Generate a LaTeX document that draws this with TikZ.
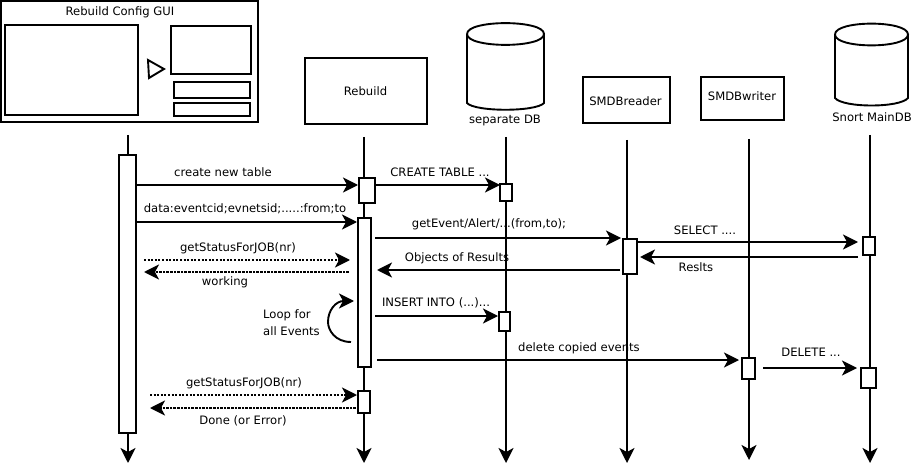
\documentclass[tikz,border=0pt]{standalone}
\usepackage{fontspec}
\setmainfont{DejaVu Sans}
\usetikzlibrary{arrows.meta}
\newcommand{\bx}[6][plainbox]{%
  \pgfmathsetmacro{\cxx}{(#3+#5)/2}\pgfmathsetmacro{\cyy}{(#4+#6)/2}%
  \pgfmathsetmacro{\www}{#5-#3}\pgfmathsetmacro{\hhh}{#6-#4}%
  \node[#1,minimum width=\www pt,minimum height=\hhh pt] (#2) at (\cxx,\cyy) {};}
\newcommand{\cyl}[6]{% x1 x2 top centre ytopEllipse, ysideEnd, ybottom
  \draw[ln,fill=white] (#1,#4) -- (#1,#5) .. controls (#1+8,#6-1) and (#2-8,#6-1) .. (#2,#5) -- (#2,#4);
  \draw[ln] (#1,#4) .. controls (#1,#3-14.5) and (#2,#3-14.5) .. (#2,#4) .. controls (#2,#3+14.5) and (#1,#3+14.5) .. (#1,#4);}
\tikzset{
  ln/.style={line width=1.9pt},
  plainbox/.style={draw,line width=1.9pt,fill=white,inner sep=0pt,outer sep=0pt,rectangle},
  txt/.style={inner sep=0pt,font=\fontsize{11.6pt}{14pt}\selectfont},
  life/.style={ln,-{Stealth[length=15pt,width=15pt,inset=4pt]}},
  msg/.style={ln,-{Stealth[length=15pt,width=15pt,inset=4pt]}},
  dotmsg/.style={msg,dash pattern=on 2pt off 1.6pt},
  dashmsg/.style={msg,dash pattern=on 2.6pt off 1pt},
}
\begin{document}
\begin{tikzpicture}[x=1pt,y=-1pt]
\useasboundingbox (0,0) rectangle (913,465);
% lifeline ends
\foreach \n/\x/\a/\b in {gui/128/135/463,reb/364/137/463,sep/506/137/463,rea/627/140/463,wri/749/139/460,sno/870/135/463}{
  \coordinate (\n top) at (\x,\a);
  \coordinate (\n end) at (\x,\b);
  \draw[life] (\n top) -- (\n end);
}
% GUI
\bx{gui}{1}{1}{258}{122}
\bx{guileft}{5}{25}{138}{115}
\bx{guiright}{171}{26}{251}{74}
\bx{guibtna}{174}{82}{250}{98}
\bx{guibtnb}{174}{103}{250}{116}
\draw[ln,line join=miter] (148,60) -- (164,69) -- (149,78) -- cycle;
\node[txt] (guilabel) at (120,12.5) {Rebuild Config GUI};
% Rebuild and others
\bx{rebuild}{305}{58}{427}{124}
\node[txt] (rebuildlabel) at (365.5,91.5) {Rebuild};
\cyl{467}{544}{34}{34}{103}{113}
\node[txt] (seplabel) at (505,120) {separate DB};
\bx{reader}{583}{77}{670}{123}
\node[txt] (readerlabel) at (625.5,101.5) {SMDBreader};
\bx{writer}{701}{77}{784}{120}
\node[txt] (writerlabel) at (742,96.5) {SMDBwriter};
\cyl{835}{908}{34.5}{34.5}{98}{109}
\node[txt] (snolabel) at (872,117) {Snort MainDB};
% activations
\bx{agui}{119}{155}{136}{433}
\bx{areba}{359}{178}{375}{203}
\bx{arebb}{358}{218}{371}{367}
\bx{arebc}{358}{391}{370}{413}
\bx{asepa}{500}{184}{512}{201}
\bx{asepb}{499}{312}{510}{331}
\bx{area}{623}{239}{637}{274}
\bx{awri}{742}{358}{755}{379}
\bx{asnoa}{863}{237}{875}{255}
\bx{asnob}{861}{368}{876}{388}
% messages
\foreach \n/\xa/\ya/\xb/\yb/\st in {
 ma/136/185/358/185/msg, mb/375/185/500/185/msg, mc/136/222/357/222/msg,
 md/375/238/621/238/msg, me/637/242/858/242/msg, mf/858/257/640/257/msg,
 mg/620/270/377/270/msg, mh/375/316/498/316/msg, mi/377/360/739/360/msg,
 mj/763/368/857/368/msg, mk/144/260/350/260/dotmsg, ml/349/272/144/272/dashmsg,
 mm/150/395/357/395/dotmsg, mn/356/408/150/408/dashmsg}{
  \coordinate (\n s) at (\xa,\ya);
  \coordinate (\n t) at (\xb,\yb);
  \draw[\st] (\n s) -- (\n t);
}
% loop
\coordinate (loops) at (351,342);
\coordinate (loopt) at (354,301);
\draw[msg] (loops) .. controls (335,342) and (328,330) .. (328,322) .. controls (328,310) and (336,301) .. (loopt);
% labels
\node[txt] (la) at (223,172) {create new table};
\node[txt] (lb) at (440,172) {CREATE TABLE ...};
\node[txt] (lc) at (245,209) {data:eventcid;evnetsid;.....:from;to};
\node[txt] (ld) at (489,224) {getEvent/Alert/...(from,to);};
\node[txt] (le) at (705,230) {SELECT ....};
\node[txt] (lf) at (696,267) {Reslts};
\node[txt] (lg) at (457,258) {Objects of Results};
\node[txt] (lh) at (436,303) {INSERT INTO (...)...};
\node[txt] (li) at (579,348) {delete copied events};
\node[txt] (lj) at (811,352) {DELETE ...};
\node[txt] (lk) at (238,248) {getStatusForJOB(nr)};
\node[txt] (ll) at (225,282) {working};
\node[txt] (lm) at (244,383) {getStatusForJOB(nr)};
\node[txt] (ln) at (243,421) {Done (or Error)};
\node[txt,anchor=west] (lo) at (263,315) {Loop for};
\node[txt,anchor=west] (lp) at (263,331) {all Events};
\end{tikzpicture}
\end{document}
